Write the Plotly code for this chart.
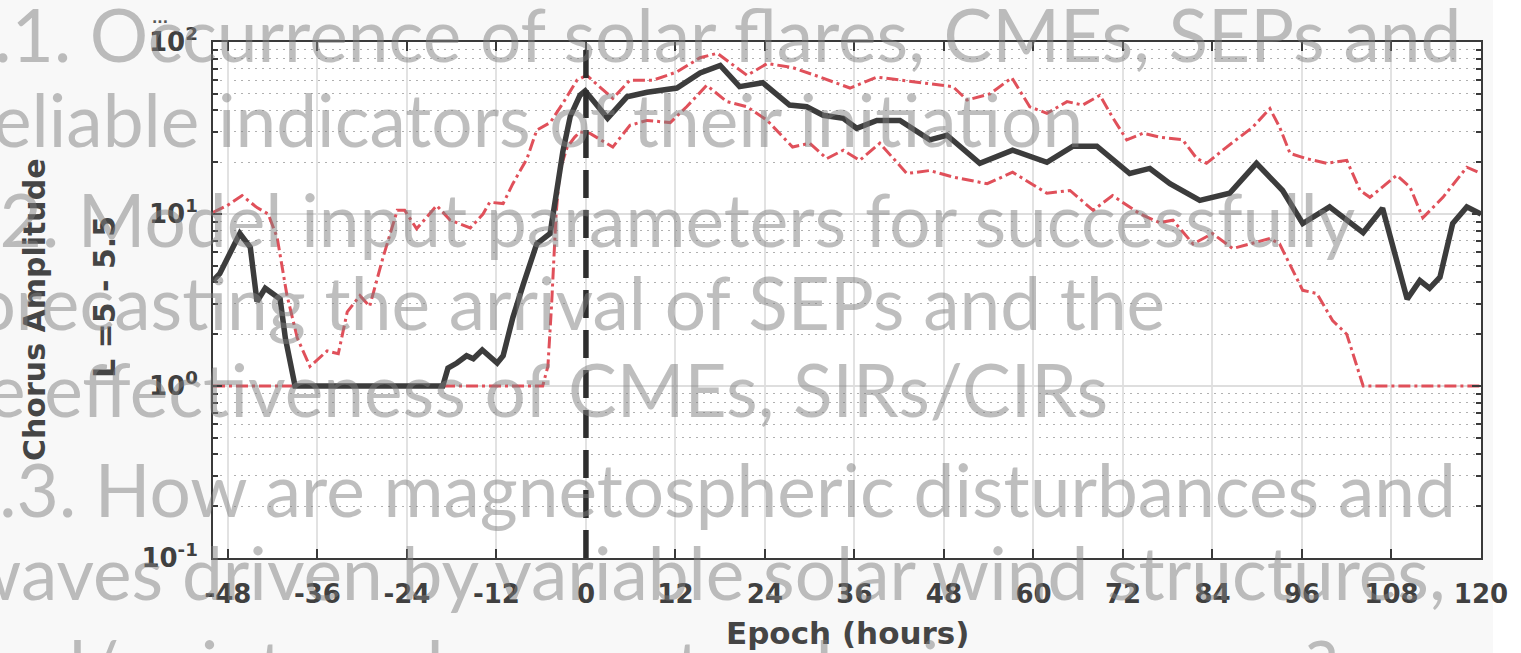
import plotly.graph_objects as go

# ---------------- data ----------------
median_h = [-50.0, -49.1, -46.4, -45.0, -44.1, -43.0, -41.0, -40.3, -39.0, -19.2, -18.5, -17.3,
            -16.0, -15.1, -13.9, -11.9, -11.1, -9.8, -8.4, -6.6, -4.8, -3.9, -3.1, -2.1, -0.8,
            -0.1, 2.9, 5.5, 8.2, 12.2, 15.3, 18.0, 20.6, 23.7, 27.3, 29.6, 31.8, 34.5, 36.3,
            39.0, 42.1, 46.1, 48.4, 52.8, 57.2, 61.8, 65.3, 68.5, 72.9, 75.6, 78.3, 82.3, 86.3,
            89.9, 93.4, 96.1, 99.7, 104.2, 106.8, 110.1, 111.8, 113.1, 114.5, 116.2, 118.1, 120.0]
median_v = [4.1, 4.5, 7.7, 6.4, 3.1, 3.7, 3.2, 1.9, 1.0, 1.0, 1.27, 1.36,
            1.5, 1.44, 1.62, 1.36, 1.5, 2.5, 3.9, 6.7, 7.7, 13.7, 23, 37, 49,
            52, 36, 48, 51, 54, 66, 73, 55, 58, 43, 42, 37.5, 36, 31.5,
            35, 35, 27, 28.7, 19.7, 23.5, 20, 24.8, 24.8, 17.2, 18.4, 15, 12, 13.2,
            19.7, 13.7, 8.8, 11, 7.8, 10.8, 3.2, 4.1, 3.7, 4.3, 8.8, 11, 10]

upper_h = [-50.0, -48.1, -46.1, -44.1, -42.6, -41.4, -40.1, -38.7, -37.0, -35.7, -34.7, -33.2,
           -32.0, -30.3, -29.0, -27.2, -25.3, -24.3, -22.7, -20.0, -18.2, -15.5, -13.8, -12.9,
           -11.1, -9.8, -7.9, -6.6, -4.8, -3.1, -1.2, 0.1, 3.6, 5.9, 9.0, 12.2, 15.3, 17.6,
           19.3, 21.6, 24.3, 27.7, 31.4, 35.4, 39.0, 44.8, 49.2, 51.1, 54.2, 57.1, 59.5, 61.8,
           64.5, 66.6, 68.9, 70.6, 72.5, 74.7, 76.9, 80.0, 81.9, 83.2, 85.9, 89.4, 91.7, 93.0,
           94.4, 96.6, 99.3, 102.0, 103.8, 105.1, 108.7, 110.5, 112.2, 114.9, 118.1, 120.0]
upper_v = [10.2, 11.2, 12.8, 10.9, 10, 7.3, 3.4, 1.9, 1.3, 1.46, 1.6, 1.54,
           2.7, 3.35, 2.9, 5.6, 10.5, 10.5, 8.2, 11.2, 9.2, 8.3, 10, 11.7,
           11.5, 15, 21, 30.7, 34, 44, 60, 64, 47, 60, 60, 67, 81, 86,
           76, 64, 75, 71, 62.5, 54, 62.5, 58, 55, 46, 50, 62, 42, 38.5,
           45, 43, 49, 36.5, 27, 29.5, 28, 27, 21, 19.7, 24.5, 32, 41, 32,
           22.5, 21, 19.7, 20.5, 13.7, 12.5, 16.8, 14.3, 9.5, 12.5, 18.7, 17.2]

lower_h = [-50.0, -5.8, -5.1, -4.6, -4.0, -3.5, -2.5, -1.5, -0.8, 0.5, 3.6, 5.9, 8.2, 11.3,
           13.5, 16.2, 18.9, 21.6, 24.3, 27.7, 30.0, 32.3, 34.5, 36.7, 39.4, 43.0, 46.1,
           49.2, 53.8, 57.2, 61.8, 64.9, 68.0, 70.6, 74.3, 76.9, 78.7, 81.4, 84.0, 86.7,
           91.7, 93.0, 96.1, 98.0, 100.1, 102.0, 104.2, 120.0]
lower_v = [1.0, 1.0, 1.3, 3.0, 10, 18, 24.5, 28, 30, 29.5, 24.5, 32.8, 35, 34,
           42, 56, 45, 42, 35, 24.5, 25.8, 21, 23.5, 20.5, 25.8, 17.2, 17.9,
           16.4, 15, 17.5, 13.2, 13.7, 10.5, 12.8, 10, 8.9, 9.2, 6.7, 7.7, 6.3,
           7.2, 6.7, 3.6, 3.45, 2.4, 2.0, 1.0, 1.0]

x_ticks = [-48, -36, -24, -12, 0, 12, 24, 36, 48, 60, 72, 84, 96, 108, 120]
x_range = [-50, 120]
y_ticks = [0.1, 1, 10, 100]
y_tick_text = ["10<sup>-1</sup>", "10<sup>0</sup>", "10<sup>1</sup>", "10<sup>2</sup>"]
y_minor = [m * d for d in (0.1, 1, 10) for m in range(2, 10)]
epoch_zero = 0

x_title = "Epoch (hours)"
y_title_1 = "Chorus Amplitude"
y_title_2 = "L =5 - 5.5"

overlay_lines = [
    "1.1. Occurrence of solar flares, CMEs, SEPs and",
    "reliable indicators of their initiation",
    "1.2. Model input parameters for successfully",
    "forecasting the arrival of SEPs and the",
    "the effectiveness of CMEs, SIRs/CIRs",
    "1.3. How are magnetospheric disturbances and",
    "waves driven by variable solar wind structures,",
    "and/or internal magnetospheric processes?",
]
# pixel right-edge and baseline of each overlay line (layout only)
overlay_right_px = [1463, 1085, 1358, 1167, 1110, 1458, 1448, 1340]
overlay_base_px = [62, 147, 247, 330, 417, 517, 600, 694]

# ---------------- figure ----------------
W, H = 1521, 653
L, R, T, B = 213, 40, 42, 95
PW, PH = W - L - R, H - T - B


def px2paper(px, py):
    return (px - L) / PW, (H - B - py) / PH


red = "#e0505a"
dark = "#3c3c3c"
axis_col = "#3a3a3a"

fig = go.Figure()
fig.add_trace(go.Scatter(x=upper_h, y=upper_v, mode="lines",
                         line=dict(color=red, width=3, dash="12px,4px,3px,4px"),
                         hoverinfo="skip"))
fig.add_trace(go.Scatter(x=lower_h, y=lower_v, mode="lines",
                         line=dict(color=red, width=3, dash="12px,4px,3px,4px"),
                         hoverinfo="skip"))
fig.add_trace(go.Scatter(x=median_h, y=median_v, mode="lines",
                         line=dict(color=dark, width=5.5),
                         hoverinfo="skip"))

fig.add_vline(x=epoch_zero, line=dict(color="#2e2e2e", width=5.5, dash="28px,12px"))

tickfont = dict(family="DejaVu Sans", size=26, color="#404040", weight="bold")

fig.update_xaxes(range=x_range, tickvals=x_ticks, ticktext=[str(t) for t in x_ticks],
                 ticks="inside", ticklen=9, tickwidth=2, tickcolor=axis_col,
                 showline=True, linecolor=axis_col, linewidth=2, mirror="allticks",
                 showgrid=True, gridcolor="#e2e2e2", gridwidth=1.5, zeroline=False,
                 tickfont=tickfont, ticklabelstandoff=12, automargin=False)
fig.update_yaxes(type="log", range=[-1, 2], tickvals=y_ticks, ticktext=y_tick_text,
                 ticks="inside", ticklen=9, tickwidth=2, tickcolor=axis_col,
                 showline=True, linecolor=axis_col, linewidth=2, mirror="allticks",
                 showgrid=True, gridcolor="#dedede", gridwidth=1.5, zeroline=False,
                 tickfont=tickfont, ticklabelstandoff=8, automargin=False,
                 minor=dict(tickvals=y_minor, ticks="inside", ticklen=5, tickwidth=2,
                            tickcolor=axis_col, showgrid=True, gridcolor="#b0b0b0",
                            griddash="2px,5px", gridwidth=1.3))

annotations = []
# axis titles
tx, ty = px2paper(847, 633)
annotations.append(dict(text=x_title, x=0.5, y=ty, xref="paper", yref="paper",
                        xanchor="center", yanchor="middle", showarrow=False,
                        font=dict(family="DejaVu Sans", size=31, color="#454545", weight="bold")))
tx, ty = px2paper(34, 310)
annotations.append(dict(text=y_title_1, x=tx, y=ty, xref="paper", yref="paper",
                        xanchor="center", yanchor="middle", showarrow=False, textangle=-90,
                        font=dict(family="DejaVu Sans", size=30, color="#454545", weight="bold")))
tx, ty = px2paper(104, 297)
annotations.append(dict(text=y_title_2, x=tx, y=ty, xref="paper", yref="paper",
                        xanchor="center", yanchor="middle", showarrow=False, textangle=-90,
                        font=dict(family="DejaVu Sans", size=30, color="#454545", weight="bold")))
tx, ty = px2paper(160, 18)
annotations.append(dict(text="...", x=tx, y=ty, xref="paper", yref="paper",
                        xanchor="center", yanchor="middle", showarrow=False,
                        font=dict(family="DejaVu Sans", size=14, color="#555555", weight="bold")))

# overlaid slide text
ofs = 73
for line, rx, by in zip(overlay_lines, overlay_right_px, overlay_base_px):
    px_, py_ = px2paper(rx, by - 0.387 * ofs)
    annotations.append(dict(text=line, x=px_, y=py_, xref="paper", yref="paper",
                            xanchor="right", yanchor="middle", showarrow=False,
                            font=dict(family="Lato", size=ofs, color="rgba(125,125,125,0.5)")))

# off-white backdrop of the picture: paper is off-white, thin white strips at top and right
fig.update_layout(width=W, height=H, margin=dict(l=L, r=R, t=T, b=B, pad=0),
                  paper_bgcolor="#f8f8f8", plot_bgcolor="white", showlegend=False,
                  annotations=annotations,
                  shapes=[dict(type="rect", xref="paper", yref="paper",
                               x0=px2paper(0, 0)[0], x1=px2paper(W, 0)[0],
                               y0=px2paper(0, 22)[1], y1=px2paper(0, 0)[1],
                               fillcolor="white", line=dict(width=0), layer="below"),
                          dict(type="rect", xref="paper", yref="paper",
                               x0=px2paper(1493, 0)[0], x1=px2paper(W, 0)[0],
                               y0=px2paper(0, H)[1], y1=px2paper(0, 0)[1],
                               fillcolor="white", line=dict(width=0), layer="below")])

fig.write_html("out.html", config={"displayModeBar": False},
               post_script="document.body.style.margin='0';document.body.style.overflow='hidden';")
